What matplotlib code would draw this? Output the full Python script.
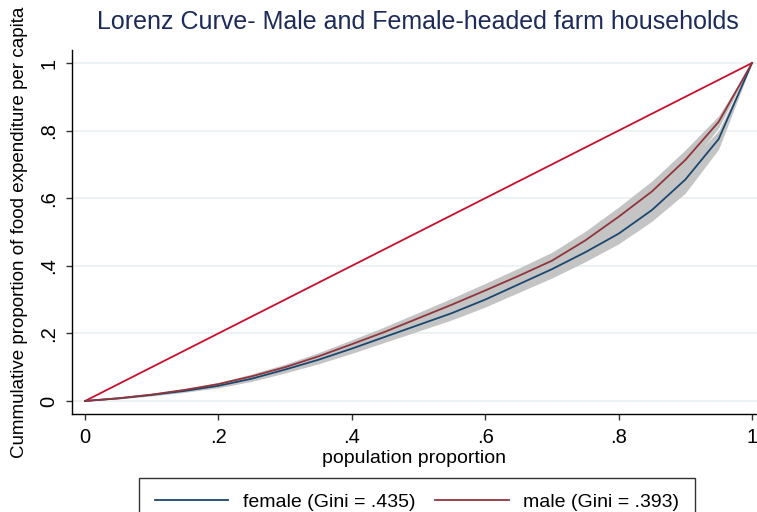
import matplotlib
matplotlib.use("Agg")
import matplotlib.pyplot as plt
import numpy as np

plt.rcParams['font.family'] = ['Liberation Sans', 'DejaVu Sans']

# Data
pop = [0, .05, .10, .15, .20, .25, .30, .35, .40, .45, .50, .55, .60, .65, .70, .75, .80, .85, .90, .95, 1.0]
female = [0, .008, .018, .030, .045, .066, .093, .122, .155, .190, .225, .260, .300, .345, .390, .440, .495, .565, .655, .775, 1.0]
male = [0, .008, .019, .033, .050, .073, .100, .132, .168, .205, .245, .285, .327, .370, .415, .475, .545, .620, .713, .826, 1.0]
female_lo = [0, .006, .015, .026, .039, .058, .083, .110, .141, .174, .207, .240, .278, .321, .364, .412, .465, .532, .615, .745, 1.0]
female_hi = [0, .010, .021, .034, .051, .074, .103, .134, .169, .206, .243, .280, .322, .369, .416, .468, .525, .598, .695, .800, 1.0]
male_lo = [0, .006, .016, .029, .045, .066, .091, .121, .155, .190, .228, .266, .306, .347, .390, .448, .516, .589, .683, .808, 1.0]
male_hi = [0, .010, .022, .037, .055, .080, .109, .143, .181, .220, .262, .304, .348, .393, .440, .502, .574, .651, .743, .844, 1.0]
equality = [0, 1.0]
gini_female = ".435"
gini_male = ".393"

xticks = [0, .2, .4, .6, .8, 1]
xticklabels = ["0", ".2", ".4", ".6", ".8", "1"]
yticks = [0, .2, .4, .6, .8, 1]
yticklabels = ["0", ".2", ".4", ".6", ".8", "1"]

W, H = 757, 512
fig = plt.figure(figsize=(W / 100, H / 100), dpi=100)
ax = fig.add_axes([72 / W, 98 / H, 685 / W, (414 - 50) / H])

band_col = '#c4c4c4'
ax.fill_between(pop, female_lo, female_hi, color=band_col, lw=0, zorder=1)
ax.fill_between(pop, male_lo, male_hi, color=band_col, lw=0, zorder=1)
ax.plot(equality, equality, color='#c8102e', lw=1.3, zorder=3)
lf, = ax.plot(pop, female, color='#1a476f', lw=1.3, zorder=4)
lm, = ax.plot(pop, male, color='#90353b', lw=1.3, zorder=4)

ax.set_xlim(-13 / 667, 1 + 5 / 667)
ax.set_ylim(-13 / 338, 1 + 13 / 338)

for v in yticks:
    ax.axhline(v, color='#eaf0f3', lw=1.2, zorder=0)

for s in ['top', 'right']:
    ax.spines[s].set_visible(False)
for s in ['left', 'bottom']:
    ax.spines[s].set_linewidth(1.0)
    ax.spines[s].set_color('black')

ax.set_xticks(xticks)
ax.set_xticklabels(xticklabels, fontsize=14.5)
ax.set_yticks(yticks)
ax.set_yticklabels(yticklabels, fontsize=14.5, rotation=90, va='center')
ax.tick_params(direction='out', length=4, width=1, color='#333333', pad=6)

ax.set_xlabel("population proportion", fontsize=14, labelpad=2)
ax.set_ylabel("Cummulative proportion of food expenditure per capita", fontsize=13.5, labelpad=8)

fig.text(418 / W, 1 - 22 / H, "Lorenz Curve- Male and Female-headed farm households",
         fontsize=18, color='#1c2b59', ha='center', va='center')

leg = fig.legend([lf, lm], [f"female (Gini = {gini_female})", f"male (Gini = {gini_male})"],
                 loc='upper center', bbox_to_anchor=(417 / W, 1 - 478 / H), ncol=2,
                 fontsize=14, frameon=True, fancybox=False, edgecolor='black',
                 handlelength=3.8, columnspacing=1.0, borderpad=0.8, borderaxespad=0,
                 handletextpad=0.75)
leg.get_frame().set_linewidth(1.0)

fig.savefig("out.png", dpi=100)
